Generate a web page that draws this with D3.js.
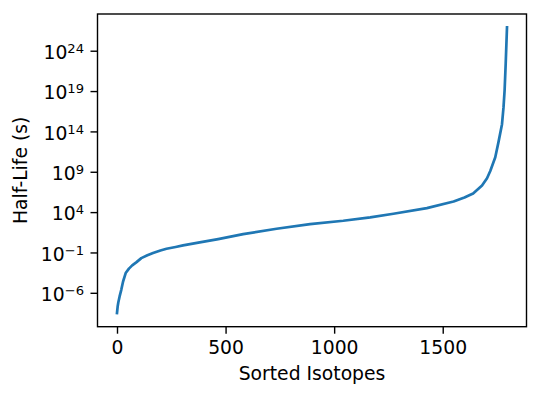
<!DOCTYPE html>
<html>
<head>
<meta charset="utf-8">
<script src="https://cdn.jsdelivr.net/npm/d3@7"></script>
<style>
  body { margin: 0; background: #fff; }
  svg { display: block; }
  text { font-family: "DejaVu Sans", sans-serif; fill: #000; }
</style>
</head>
<body>
<div id="vis"></div>
<script>
// set margin
const margin = { top: 14, right: 13.5, bottom: 72.3, left: 97.5 };
const width = 540 - margin.left - margin.right;
const height = 399 - margin.top - margin.bottom;

// rank of isotope after sorting
const rank = [0, 3, 6, 12, 20, 28, 40, 55, 70, 90, 112, 140, 166, 200, 228, 270, 304,
  381, 466, 581, 735, 889, 1042, 1166, 1273, 1427, 1550, 1600, 1640, 1681, 1704, 1719,
  1742, 1757, 1773, 1780, 1785, 1790, 1796]
// log10 of half-life in seconds
const logHalfLife = [-8.5, -7.7, -7.2, -6.45, -5.6, -4.6, -3.55, -3.0, -2.6, -2.2, -1.7,
  -1.35, -1.07, -0.75, -0.54, -0.32, -0.13, 0.24, 0.66, 1.28, 1.94, 2.52, 2.93, 3.34,
  3.80, 4.50, 5.32, 5.8, 6.3, 7.3, 8.2, 9.1, 10.8, 12.7, 14.9, 17.0, 19.1, 22.4, 26.9]

const xTicks = [0, 500, 1000, 1500]
const yTickExps = [-6, -1, 4, 9, 14, 19, 24]

const fontSize = 18.75

const svg = d3.select('#vis')
    .append('svg')
    .attr('width', width + margin.left + margin.right)
    .attr('height', height + margin.top + margin.bottom)
    .append('g')
    .attr('transform', `translate(${margin.left},${margin.top})`);

const xScale = d3.scaleLinear()
    .domain([-89.8, 1885.8])
    .range([0, width]);

const yScale = d3.scaleLog()
    .domain([Math.pow(10, -10.2), Math.pow(10, 28.55)])
    .range([height, 0]);

const data = rank.map((r, i) => ({ x: r, y: Math.pow(10, logHalfLife[i]) }))

// the curve
const line = d3.line()
    .x(d => xScale(d.x))
    .y(d => yScale(d.y));

svg.append('path')
    .datum(data)
    .attr('fill', 'none')
    .attr('stroke', '#1f77b4')
    .attr('stroke-width', 2.7)
    .attr('stroke-linejoin', 'round')
    .attr('stroke-linecap', 'square')
    .attr('d', line);

// x axis
const xAxis = svg.append('g')
    .attr('transform', `translate(0,${height})`)
    .call(d3.axisBottom(xScale).tickValues(xTicks).tickSize(7).tickSizeOuter(0)
        .tickFormat(d3.format('d')));

xAxis.selectAll('text')
    .attr('y', 27.8)
    .attr('dy', 0)
    .style('font-size', fontSize + 'px');

// y axis with 10^n labels
const yAxis = svg.append('g')
    .call(d3.axisLeft(yScale)
        .tickValues(yTickExps.map(e => Math.pow(10, e)))
        .tickSize(7)
        .tickSizeOuter(0)
        .tickFormat(''));

yAxis.selectAll('.tick text')
    .attr('x', -13.5)
    .attr('dy', 0)
    .attr('y', 7.6)
    .style('font-size', fontSize + 'px')
    .each(function(d) {
        const e = Math.round(Math.log10(d))
        const t = d3.select(this)
        t.append('tspan').text('10')
        t.append('tspan')
            .attr('dy', -6)
            .style('font-size', (fontSize * 0.7) + 'px')
            .text(e < 0 ? '\u2212' + (-e) : e)
    });

svg.selectAll('.domain').remove()
svg.selectAll('.tick line').attr('stroke', '#000').attr('stroke-width', 1.4)

// frame
svg.append('rect')
    .attr('width', width)
    .attr('height', height)
    .attr('fill', 'none')
    .attr('stroke', '#000')
    .attr('stroke-width', 1.4);

// axis labels
svg.append('text')
    .attr('x', width / 2)
    .attr('y', height + 52.8)
    .attr('text-anchor', 'middle')
    .style('font-size', fontSize + 'px')
    .text('Sorted Isotopes');

svg.append('text')
    .attr('transform', 'rotate(-90)')
    .attr('x', -height / 2)
    .attr('y', -margin.left + 27)
    .attr('text-anchor', 'middle')
    .style('font-size', fontSize + 'px')
    .text('Half-Life (s)');
</script>
</body>
</html>
